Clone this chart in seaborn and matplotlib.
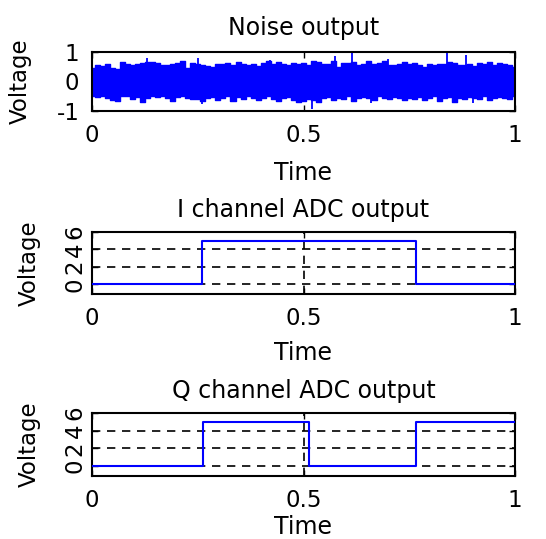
import numpy as np
import pandas as pd
import matplotlib
matplotlib.use("Agg")
import matplotlib.pyplot as plt
import seaborn as sns

# ---- data ----
titles = ["Noise output", "I channel ADC output", "Q channel ADC output"]
x_ticks = [0, 0.5, 1]
x_tick_labels = ["0", "0.5", "1"]
noise_yticks = [-1, 0, 1]
noise_ytick_labels = ["-1", "0", "1"]
adc_yticks = [0, 2, 4, 6]
adc_ytick_labels = ["0", "2", "4", "6"]

# envelope of the dense noise trace (upper / lower edge per time bin)
noise_upper = [0.45, 0.55, 0.52, 0.58, 0.45, 0.44, 0.66, 0.58, 0.55, 0.60, 0.62, 0.67, 0.66, 0.62, 0.56, 0.55, 0.58, 0.62, 0.68, 0.45, 0.62,
               0.60, 0.55, 0.52, 0.48, 0.60, 0.58, 0.62, 0.55, 0.66, 0.60, 0.56, 0.60, 0.52, 0.63, 0.70, 0.58, 0.66, 0.60, 0.55, 0.62, 0.58,
               0.62, 0.55, 0.70, 0.66, 0.58, 0.60, 0.68, 0.50, 0.62, 0.62, 0.66, 0.55, 0.60, 0.68, 0.58, 0.62, 0.70, 0.56, 0.55, 0.60, 0.66,
               0.58, 0.62, 0.55, 0.48, 0.60, 0.56, 0.58, 0.60, 0.66, 0.62, 0.55, 0.56, 0.60, 0.52, 0.62, 0.58, 0.66, 0.55, 0.62, 0.60, 0.55, 0.48]
noise_lower = [-0.50, -0.52, -0.48, -0.55, -0.62, -0.66, -0.50, -0.48, -0.58, -0.52, -0.68, -0.55, -0.50, -0.52, -0.48, -0.56, -0.66, -0.52, -0.50, -0.55, -0.58,
               -0.60, -0.66, -0.56, -0.52, -0.62, -0.55, -0.50, -0.66, -0.52, -0.58, -0.50, -0.56, -0.62, -0.55, -0.50, -0.58, -0.66, -0.55, -0.52, -0.62, -0.68,
               -0.66, -0.58, -0.62, -0.70, -0.55, -0.52, -0.62, -0.56, -0.60, -0.50, -0.66, -0.55, -0.52, -0.56, -0.62, -0.50, -0.55, -0.60, -0.52, -0.56, -0.62,
               -0.55, -0.58, -0.52, -0.62, -0.56, -0.50, -0.66, -0.55, -0.52, -0.68, -0.56, -0.60, -0.52, -0.55, -0.58, -0.50, -0.62, -0.56, -0.52, -0.55, -0.58, -0.50]
# isolated needle-like peaks of the noise trace
spike_time = [0.13, 0.25, 0.42, 0.575, 0.615, 0.70, 0.84, 0.885, 0.26, 0.52, 0.66, 0.90]
spike_value = [0.78, 0.80, 0.74, 0.86, 0.95, 0.76, 0.95, 0.90, -0.76, -0.92, -0.72, -0.74]

i_time = [0.0, 0.26, 0.765, 1.0]
i_level = [0, 5, 0, 0]
q_time = [0.0, 0.262, 0.512, 0.766, 1.0]
q_level = [0, 5, 0, 5, 5]

# ---- style ----
sns.set_theme(style="white")
plt.rcParams['font.family'] = ['DejaVu Sans']

W, H = 546, 539
fig = plt.figure(figsize=(W / 100, H / 100), dpi=100)
fig.patch.set_facecolor("white")


def add_axes(l, t, r, b):
    return fig.add_axes([l / W, 1 - b / H, (r - l) / W, (b - t) / H])


ax_noise = add_axes(92, 52, 515, 111)
ax_i = add_axes(92, 232, 515, 294)
ax_q = add_axes(92, 413, 515, 476)

BLUE = (0, 0, 1)

# noise panel
noise_t = np.linspace(0, 1, len(noise_upper))
ax_noise.fill_between(noise_t, noise_lower, noise_upper, step="mid", color=BLUE, lw=0)
noise_df = pd.DataFrame({"Time": noise_t, "upper": noise_upper, "lower": noise_lower})
sns.lineplot(data=noise_df, x="Time", y="upper", ax=ax_noise, color=BLUE, lw=1.0,
             drawstyle="steps-mid", estimator=None)
sns.lineplot(data=noise_df, x="Time", y="lower", ax=ax_noise, color=BLUE, lw=1.0,
             drawstyle="steps-mid", estimator=None)
ax_noise.vlines(spike_time, 0, spike_value, color=BLUE, lw=1.3)

# ADC panels
sns.lineplot(x=i_time, y=i_level, ax=ax_i, color=BLUE, lw=1.5, drawstyle="steps-post",
             estimator=None, zorder=3)
sns.lineplot(x=q_time, y=q_level, ax=ax_q, color=BLUE, lw=1.5, drawstyle="steps-post",
             estimator=None, zorder=3)

label_x = [-0.142, -0.12, -0.12]
label_y = [-0.842, -0.753, -0.62]
title_pad = [12.5, 10.5, 10.5]

for k, (ax, title) in enumerate(zip([ax_noise, ax_i, ax_q], titles)):
    ax.set_xlim(0, 1)
    ax.set_xticks(x_ticks)
    ax.set_xticklabels(x_tick_labels)
    ax.set_title(title, fontsize=17, pad=title_pad[k], color="black")
    ax.set_xlabel("Time", fontsize=17, color="black")
    ax.set_ylabel("Voltage", fontsize=16.5, color="black")
    ax.xaxis.set_label_coords(0.5, label_y[k])
    ax.yaxis.set_label_coords(label_x[k], 0.5)
    for sp in ax.spines.values():
        sp.set_visible(True)
        sp.set_color("black")
        sp.set_linewidth(1.5)
    ax.tick_params(axis="both", direction="in", length=4, width=1.0, colors="black",
                   top=True, right=True, bottom=True, left=True, labelsize=16.5)
    ax.tick_params(axis="x", pad=9.5)
    ax.set_facecolor("white")

ax_noise.set_ylim(-1, 1)
ax_noise.set_yticks(noise_yticks)
ax_noise.set_yticklabels(noise_ytick_labels)
ax_noise.tick_params(axis="y", pad=9)
ax_noise.grid(False)

for ax in (ax_i, ax_q):
    ax.set_ylim(-1.1, 6)
    ax.set_yticks(adc_yticks)
    ax.set_yticklabels(adc_ytick_labels, rotation=90, va="center")
    ax.tick_params(axis="y", pad=4)
    ax.grid(True, color="black", linestyle=(0, (5, 4)), linewidth=1.2)
    ax.set_axisbelow(True)

fig.savefig("out.png", dpi=100, facecolor="white")
